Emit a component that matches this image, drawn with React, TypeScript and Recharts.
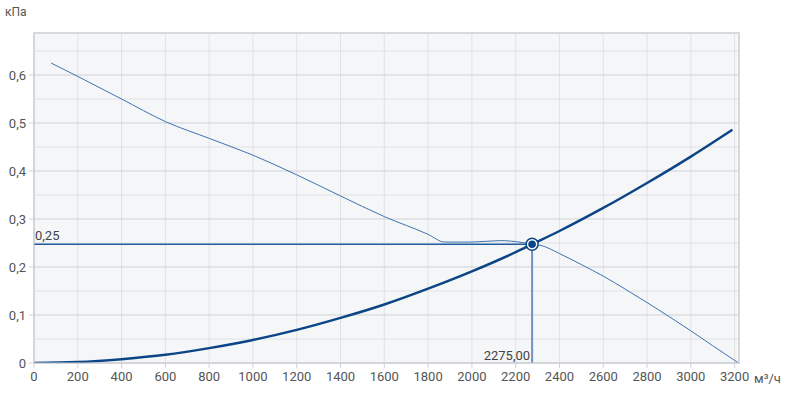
import {
  ComposedChart,
  Line,
  XAxis,
  YAxis,
  CartesianGrid,
  ReferenceLine,
  ReferenceDot,
  ReferenceArea,
} from 'recharts'

// fan pressure curve (thin line), m³/h -> kPa
const fanFlow = [78, 200, 400, 600, 800, 1000, 1200, 1400, 1600, 1800, 1875, 2000, 2130, 2230, 2275, 2315, 2400, 2500, 2600, 2700, 2800, 2900, 3000, 3100, 3218]
const fanPressure = [0.625, 0.597, 0.55, 0.503, 0.468, 0.433, 0.392, 0.348, 0.305, 0.268, 0.252, 0.252, 0.255, 0.251, 0.2475, 0.245, 0.228, 0.205, 0.181, 0.154, 0.126, 0.097, 0.067, 0.036, 0]

// network curve (thick line)
const netFlow = [0, 200, 400, 600, 800, 1000, 1200, 1400, 1600, 1800, 2000, 2200, 2275, 2400, 2600, 2800, 3000, 3190]
const netPressure = [0, 0.002, 0.008, 0.017, 0.031, 0.048, 0.069, 0.094, 0.122, 0.155, 0.191, 0.231, 0.2475, 0.275, 0.323, 0.375, 0.43, 0.486]

const workFlow = 2275
const workPressure = 0.2475

const xTicks = [0, 200, 400, 600, 800, 1000, 1200, 1400, 1600, 1800, 2000, 2200, 2400, 2600, 2800, 3000, 3200]
const yTicks = [0, 0.1, 0.2, 0.3, 0.4, 0.5, 0.6]
const xGrid = [100, 200, 300, 400, 500, 600, 700, 800, 900, 1000, 1100, 1200, 1300, 1400, 1500, 1600, 1700, 1800, 1900, 2000, 2100, 2200, 2300, 2400, 2500, 2600, 2700, 2800, 2900, 3000, 3100, 3200]
const yMinorGrid = [0.05, 0.15, 0.25, 0.35, 0.45, 0.55, 0.65]

const X_MAX = 3220
const Y_MAX = 0.6875

const fanData = fanFlow.map((q, i) => ({ q, p: fanPressure[i] }))
const netData = netFlow.map((q, i) => ({ q, p: netPressure[i] }))

const font = 'Roboto, "Open Sans", sans-serif'
const comma = (v: number) => String(v).replace('.', ',')

export default function App() {
  return (
    <div style={{ position: 'absolute', left: 0, top: 0, width: 790, height: 394, fontFamily: font }}>
      <div style={{ position: 'absolute', left: 5, top: 5, fontSize: 12, color: '#555' }}>кПа</div>
      <div style={{ position: 'absolute', left: 754, top: 371, fontSize: 13, color: '#555' }}>м³/ч</div>
      <ComposedChart width={790} height={394} margin={{ top: 33, right: 51, bottom: 0, left: 0 }}>
        <CartesianGrid
          fill="#f5f6f8"
          stroke="#e0e2e5"
          verticalValues={xGrid}
          horizontalValues={yMinorGrid}
        />
        <CartesianGrid
          stroke="#cfd2d7"
          vertical={false}
          horizontalValues={yTicks}
        />
        <XAxis
          type="number"
          dataKey="q"
          domain={[0, X_MAX]}
          ticks={xTicks}
          allowDataOverflow
          height={31}
          tickSize={5}
          tickMargin={4}
          stroke="#cfd2d7"
          tick={{ fill: '#555', fontSize: 13, fontFamily: font }}
        />
        <YAxis
          type="number"
          domain={[0, Y_MAX]}
          ticks={yTicks}
          allowDataOverflow
          width={34}
          tickSize={5}
          tickMargin={3}
          stroke="#cfd2d7"
          tickFormatter={comma}
          tick={{ fill: '#555', fontSize: 13, fontFamily: font }}
        />
        <ReferenceArea x1={0} x2={X_MAX} y1={0} y2={Y_MAX} fill="none" stroke="#d6d9dd" strokeWidth={2} />
        <Line
          data={fanData}
          dataKey="p"
          type="monotone"
          stroke="#3f72b0"
          strokeWidth={1}
          dot={false}
          isAnimationActive={false}
        />
        <Line
          data={netData}
          dataKey="p"
          type="monotone"
          stroke="#0c4585"
          strokeWidth={2.5}
          dot={false}
          isAnimationActive={false}
        />
        <ReferenceLine
          segment={[{ x: 0, y: workPressure }, { x: workFlow, y: workPressure }]}
          stroke="#1f5ca2"
          strokeWidth={1.5}
        />
        <ReferenceLine
          segment={[{ x: workFlow, y: 0 }, { x: workFlow, y: workPressure }]}
          stroke="#6f93bf"
          strokeWidth={2}
        />
        <ReferenceDot
          x={0}
          y={workPressure}
          shape={(p: any) => (
            <text x={p.cx + 1} y={p.cy - 4} fontSize={13} fill="#444" fontFamily={font}>
              {comma(0.25)}
            </text>
          )}
        />
        <ReferenceDot
          x={workFlow}
          y={0}
          shape={(p: any) => (
            <text x={p.cx - 2} y={p.cy - 3} fontSize={13} fill="#444" textAnchor="end" fontFamily={font}>
              {workFlow.toFixed(2).replace('.', ',')}
            </text>
          )}
        />
        <ReferenceDot
          x={workFlow}
          y={workPressure}
          shape={(p: any) => (
            <g>
              <circle cx={p.cx} cy={p.cy} r={6} fill="#ffffff" stroke="#0c4585" strokeWidth={1.5} />
              <circle cx={p.cx} cy={p.cy} r={3.8} fill="#0c4585" />
            </g>
          )}
        />
      </ComposedChart>
    </div>
  )
}
